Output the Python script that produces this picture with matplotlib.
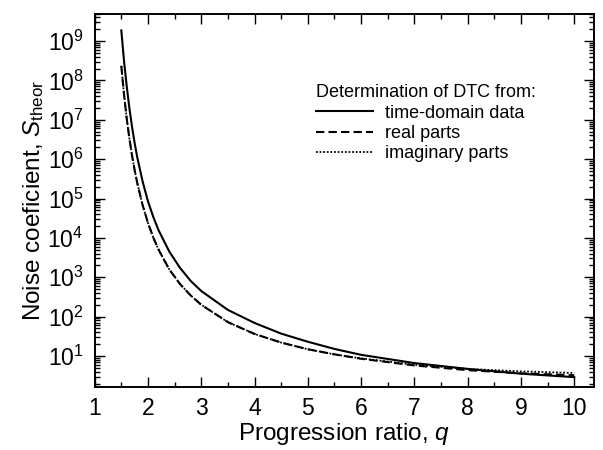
import matplotlib
matplotlib.use("Agg")
import matplotlib.pyplot as plt
from matplotlib.ticker import LogLocator, MultipleLocator, NullFormatter

plt.rcParams['font.family'] = ['Liberation Sans', 'DejaVu Sans']
plt.rcParams['mathtext.fontset'] = 'custom'
plt.rcParams['mathtext.rm'] = 'Liberation Sans'
plt.rcParams['mathtext.it'] = 'Liberation Sans:italic'

# progression ratio values and noise coefficients for each route to the DTC
q = [1.5, 1.55, 1.6, 1.65, 1.7, 1.75, 1.8, 1.9, 2.0, 2.1, 2.2, 2.4, 2.6, 2.8,
     3.0, 3.5, 4.0, 4.5, 5.0, 5.5, 6.0, 7.0, 8.0, 9.0, 10.0]
s_time = [1.86e9, 3.16e8, 7.4e7, 2.04e7, 6.8e6, 2.57e6, 1.1e6, 2.7e5, 8.5e4,
          3.4e4, 1.55e4, 4.5e3, 1.74e3, 813, 447, 148, 69, 37, 23, 15.1,
          10.7, 6.6, 4.7, 3.55, 2.9]
s_real = [2.34e8, 4.47e7, 1.12e7, 3.47e6, 1.26e6, 5.25e5, 2.45e5, 6.76e4,
          2.4e4, 1.02e4, 5.0e3, 1.58e3, 676, 347, 200, 72.4, 36.3, 21.9,
          14.8, 11.0, 8.5, 5.75, 4.37, 3.63, 3.24]
s_imag = [2.34e8, 4.47e7, 1.12e7, 3.47e6, 1.26e6, 5.25e5, 2.45e5, 6.76e4,
          2.4e4, 1.02e4, 5.0e3, 1.58e3, 676, 347, 200, 72.4, 36.3, 21.9,
          14.8, 11.0, 8.7, 6.0, 4.7, 4.07, 3.7]

fig = plt.figure(figsize=(6.03, 4.5), dpi=100)
ax = fig.add_axes([0.157, 0.140, 0.828, 0.830])

ax.plot(q, s_time, color='black', lw=1.5, ls='-', label='time-domain data')
ax.plot(q, s_real, color='black', lw=1.5, ls=(0, (4, 2)), label='real parts')
ax.plot(q, s_imag, color='black', lw=1.3, ls=(0, (1, 1)), label='imaginary parts')

ax.set_yscale('log')
ax.set_xlim(1, 10.37)
ax.set_ylim(1.63, 5e9)

ax.xaxis.set_major_locator(MultipleLocator(1))
ax.xaxis.set_minor_locator(MultipleLocator(0.5))
ax.yaxis.set_major_locator(LogLocator(base=10, numticks=20))
ax.yaxis.set_minor_locator(LogLocator(base=10, subs=range(2, 10), numticks=20))
ax.yaxis.set_minor_formatter(NullFormatter())

ax.tick_params(which='both', direction='in', top=True, right=True,
               width=1.0, labelsize=16.5)
ax.tick_params(which='major', length=7)
ax.tick_params(which='minor', length=3.5)
ax.tick_params(axis='x', which='major', pad=7)
ax.tick_params(axis='y', which='major', pad=8)
for sp in ax.spines.values():
    sp.set_linewidth(1.4)

ax.set_xlabel(r'Progression ratio, $q$', fontsize=17.5, labelpad=1)
ax.set_ylabel(r'Noise coeficient, $S_{\rm theor}$', fontsize=17.5, labelpad=1)

leg = ax.legend(title='Determination of DTC from:', loc='upper left',
                bbox_to_anchor=(0.443, 0.81), frameon=False, fontsize=13,
                title_fontsize=13, handlelength=3.15, handletextpad=0.7,
                labelspacing=0.18, borderpad=0, borderaxespad=0,
                alignment='left')

fig.savefig('out.png', dpi=100)
